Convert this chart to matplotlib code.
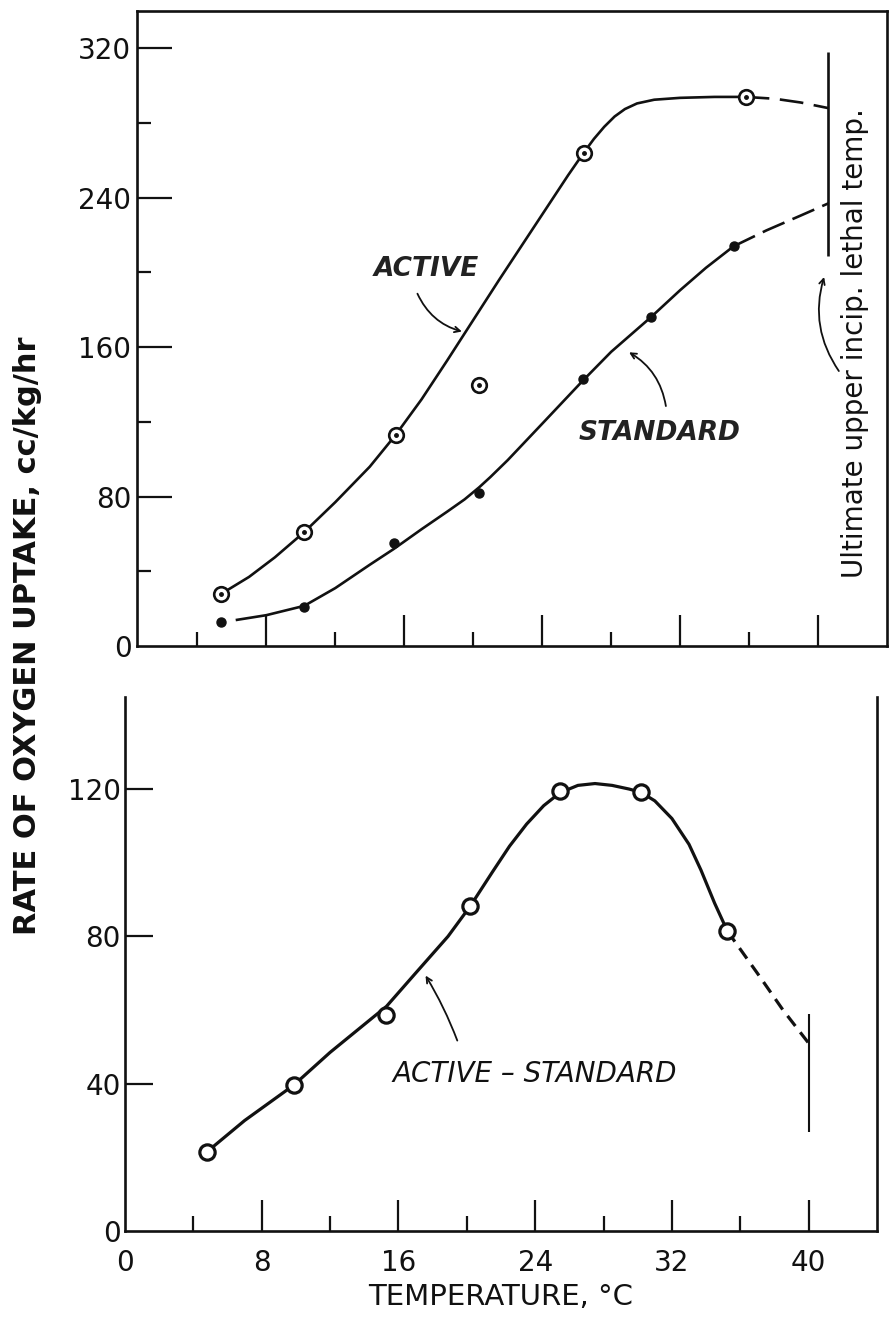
import matplotlib.pyplot as plt
from matplotlib.ticker import FixedLocator

plt.rcParams['font.family'] = ['DejaVu Sans']

# ---- upper panel: measured points ----
active_t = [5.4, 10.2, 15.5, 20.35, 26.4, 35.8]
active_r = [28, 61, 113, 140, 264, 294]
standard_t = [5.4, 10.2, 15.4, 20.35, 26.35, 30.3, 35.1]
standard_r = [13, 21, 55, 82, 143, 176, 214]

# hand-drawn curves
active_line_t = [5.4, 7, 8.5, 10.2, 12, 14, 15.5, 17, 18.5, 20, 21.5, 23, 24.5,
                 25.5, 26.4, 27, 27.6, 28.2, 28.8, 29.5, 30.5, 32, 34, 35.8]
active_line_r = [28, 37, 47.5, 61, 77, 96, 113, 132, 153, 174.5, 196, 217, 238,
                 252, 264, 271.5, 278, 283.5, 287.5, 290.5, 292.5, 293.5, 294, 294]
active_dash_t = [35.8, 37.5, 39, 40.6]
active_dash_r = [294, 293, 291, 288]

standard_line_t = [6.3, 8, 10.2, 12, 14, 15.4, 17, 18.5, 19.5, 20.35, 21, 22, 24,
                   26.35, 28, 30.3, 32, 33.5, 35.1]
standard_line_r = [14, 16.5, 21.5, 31, 43.5, 52, 62.5, 72, 78.5, 85, 90.5, 99.5,
                   119, 142, 157.5, 176, 190.5, 202.5, 214]
standard_dash_t = [35.1, 37, 39, 40.6]
standard_dash_r = [214, 222.5, 230.5, 237]

# ---- lower panel: active - standard ----
diff_t = [4.77, 9.87, 15.3, 20.2, 25.45, 30.2, 35.25]
diff_r = [21.4, 39.6, 58.6, 88.2, 119.4, 119.1, 81.4]
diff_line_t = [4.77, 7, 9.87, 12, 15.3, 17, 18.9, 20.2, 21.5, 22.5, 23.5, 24.5,
               25.45, 26.5, 27.5, 28.5, 29.5, 30.2, 31, 32, 33, 33.7, 34.5, 35.25]
diff_line_r = [21.4, 30, 39.6, 48.5, 61, 70, 80, 88.2, 97.5, 104.5, 110.5, 115.5,
               119, 121, 121.5, 121, 120, 119.1, 116.8, 112, 105, 98, 89, 81.4]
diff_dash_t = [35.25, 37, 38.5, 40.0]
diff_dash_r = [81.4, 70, 60, 51]

lethal_top_t = 40.6
lethal_top_r = (209, 318)
lethal_bot_t = 40.05
lethal_bot_r = (27, 59)

INK = '#111111'

fig = plt.figure(figsize=(8.91, 13.30), dpi=100)
ax1 = fig.add_axes([137 / 891, 684 / 1330, 750 / 891, 635 / 1330])
ax2 = fig.add_axes([125 / 891, 99 / 1330, 752 / 891, 534 / 1330])

for ax in (ax1, ax2):
    for s in ax.spines.values():
        s.set_linewidth(1.9)
        s.set_color(INK)
    ax.tick_params(which='both', direction='in', colors=INK, width=1.6,
                   labelsize=20)

# upper panel
ax1.set_xlim(0.5, 44)
ax1.set_ylim(0, 340)
ax1.yaxis.set_major_locator(FixedLocator([0, 80, 160, 240, 320]))
ax1.yaxis.set_minor_locator(FixedLocator([40, 120, 200, 280]))
ax1.xaxis.set_major_locator(FixedLocator([8, 16, 24, 32, 40]))
ax1.xaxis.set_minor_locator(FixedLocator([4, 12, 20, 28, 36]))
ax1.tick_params(axis='y', which='major', length=25, pad=4)
ax1.tick_params(axis='y', which='minor', length=10)
ax1.tick_params(axis='x', which='major', length=22, labelbottom=False)
ax1.tick_params(axis='x', which='minor', length=10)
ax1.yaxis.get_major_ticks()[0].tick1line.set_visible(False)

ax1.plot(active_line_t, active_line_r, color=INK, lw=1.9)
ax1.plot(active_dash_t, active_dash_r, color=INK, lw=1.9, dashes=(9, 4))
ax1.plot(standard_line_t, standard_line_r, color=INK, lw=1.9)
ax1.plot(standard_dash_t, standard_dash_r, color=INK, lw=1.9, dashes=(9, 3.3))
ax1.plot(active_t, active_r, 'o', ms=10.5, mfc='white', mec=INK, mew=1.9, zorder=4)
ax1.plot(active_t, active_r, 'o', ms=2.5, color=INK, zorder=5)
ax1.plot(standard_t, standard_r, 'o', ms=6.5, color=INK, zorder=4)
ax1.vlines(lethal_top_t, *lethal_top_r, color=INK, lw=1.9)

ax1.text(17.3, 202, 'ACTIVE', style='italic', fontweight='bold', fontsize=19,
         ha='center', va='center', color='#222222')
ax1.annotate('', xy=(19.5, 168), xytext=(16.7, 190),
             arrowprops=dict(arrowstyle='->', color=INK, lw=1.3,
                             connectionstyle='arc3,rad=0.25'))
ax1.text(30.8, 114, 'STANDARD', style='italic', fontweight='bold', fontsize=19,
         ha='center', va='center', color='#222222')
ax1.annotate('', xy=(28.9, 158), xytext=(31.2, 127),
             arrowprops=dict(arrowstyle='->', color=INK, lw=1.3,
                             connectionstyle='arc3,rad=0.25'))
ax1.text(42.15, 162, 'Ultimate upper incip. lethal temp.', rotation=90,
         fontsize=20, ha='center', va='center', color=INK)
ax1.annotate('', xy=(40.4, 199), xytext=(41.3, 146),
             arrowprops=dict(arrowstyle='->', color=INK, lw=1.3,
                             connectionstyle='arc3,rad=-0.25'))

# lower panel
ax2.set_xlim(0, 44)
ax2.set_ylim(0, 145)
ax2.spines['top'].set_visible(False)
ax2.yaxis.set_major_locator(FixedLocator([0, 40, 80, 120]))
ax2.xaxis.set_major_locator(FixedLocator([0, 8, 16, 24, 32, 40]))
ax2.xaxis.set_minor_locator(FixedLocator([4, 12, 20, 28, 36]))
ax2.tick_params(axis='y', which='major', length=20, pad=3)
ax2.tick_params(axis='x', which='major', length=22, pad=13)
ax2.tick_params(axis='x', which='minor', length=11)
ax2.yaxis.get_major_ticks()[0].tick1line.set_visible(False)
ax2.xaxis.get_major_ticks()[0].tick1line.set_visible(False)

ax2.plot(diff_line_t, diff_line_r, color=INK, lw=2.3)
ax2.plot(diff_dash_t, diff_dash_r, color=INK, lw=2.3, dashes=(4, 2.5))
ax2.plot(diff_t, diff_r, 'o', ms=11, mfc='white', mec=INK, mew=2.3, zorder=4)
ax2.vlines(lethal_bot_t, *lethal_bot_r, color=INK, lw=1.5)

ax2.text(24.0, 42.6, 'ACTIVE \u2013 STANDARD', style='italic', fontsize=20,
         ha='center', va='center', color=INK)
ax2.annotate('', xy=(17.5, 70), xytext=(19.5, 51),
             arrowprops=dict(arrowstyle='->', color=INK, lw=1.3,
                             connectionstyle='arc3,rad=0.05'))
ax2.set_xlabel('TEMPERATURE, \u00b0C', fontsize=21, color=INK, labelpad=4)

fig.text(28 / 891, 1 - 636 / 1330, 'RATE OF OXYGEN UPTAKE, cc/kg/hr',
         rotation=90, ha='center', va='center', fontsize=22,
         fontweight='bold', color=INK)

fig.savefig('out.png', dpi=100)
